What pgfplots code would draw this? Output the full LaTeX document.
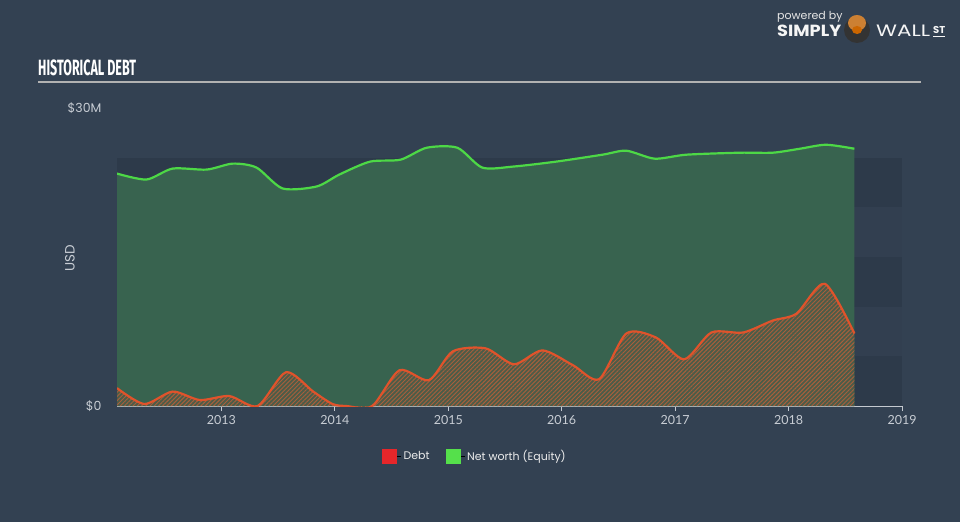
\documentclass[border=0pt]{standalone}
\usepackage{pgfplots}
\usepackage{pgfplotstable}
\pgfplotsset{compat=1.18}
\usetikzlibrary{patterns.meta}
\usepackage{fontspec}
\setmainfont{Lato}
\newfontfamily\popp{Poppins}
\newfontfamily\fira{Fira Sans}

\definecolor{bg}{HTML}{334152}
\definecolor{banddark}{HTML}{2D3A4A}
\definecolor{bandlight}{HTML}{323F50}
\definecolor{eqline}{HTML}{4DD846}
\definecolor{eqfill}{HTML}{38634F}
\definecolor{debtline}{HTML}{E0532B}
\definecolor{debtfill}{HTML}{4C5C48}
\definecolor{hatch}{HTML}{A85F3C}
\definecolor{legred}{HTML}{E6262A}
\definecolor{leggreen}{HTML}{55E04B}
\definecolor{ticktext}{HTML}{C8CDD4}
\definecolor{axisline}{HTML}{C4C9D0}

\pgfplotstableread{
year eq
2012.08 23.4
2012.34 22.8
2012.57 23.9
2012.87 23.8
2013.10 24.4
2013.31 24.0
2013.54 21.9
2013.84 22.1
2014.04 23.3
2014.31 24.6
2014.58 24.8
2014.81 26.0
2015.08 26.0
2015.30 24.0
2015.57 24.1
2015.95 24.6
2016.36 25.3
2016.57 25.7
2016.82 24.9
2017.10 25.3
2017.57 25.5
2017.86 25.5
2018.10 25.9
2018.33 26.3
2018.58 25.9
}\eqdata

\pgfplotstableread{
year debt
2012.08 1.8
2012.32 0.2
2012.57 1.45
2012.81 0.6
2013.07 1.0
2013.32 0.0
2013.57 3.4
2013.81 1.45
2013.98 0.2
2014.10 0.0
2014.33 0.0
2014.57 3.6
2014.83 2.6
2015.04 5.5
2015.33 5.8
2015.58 4.2
2015.83 5.6
2016.10 4.1
2016.33 2.7
2016.57 7.3
2016.83 6.9
2017.08 4.7
2017.32 7.4
2017.60 7.4
2017.86 8.6
2018.07 9.3
2018.32 12.3
2018.58 7.3
}\debtdata

\begin{document}
\begin{tikzpicture}
\fill[bg] (0pt,0pt) rectangle (960pt,522pt);
% title
\node[anchor=south west, inner sep=0pt, text=white] at (38pt,446.3pt)
  {\resizebox{98pt}{15.7pt}{\fira\bfseries HISTORICAL DEBT}};
\draw[line width=2pt, color=gray!60!white] (38pt,440pt) -- (921pt,440pt);
% logo
\node[anchor=west, inner sep=0pt, text=white!80!gray, font=\fontsize{11}{12}\selectfont\popp] at (777pt,505pt) {powered by};
\node[anchor=south west, inner sep=0pt, text=white!92!gray] at (777pt,485pt) {\resizebox{64pt}{11.5pt}{\popp\bfseries SIMPLY}};
\fill[gray!40!black] (857pt,492pt) circle (13pt);
\fill[brown!80!orange] (857pt,499pt) ellipse (9pt and 8pt);
\fill[orange!80!black] (857pt,492pt) ellipse (5pt and 4pt);
\node[anchor=south west, inner sep=0pt, text=white!92!gray] at (876pt,485pt) {\resizebox{54pt}{11.5pt}{\popp WALL}};
\node[anchor=south west, inner sep=0pt, text=white!92!gray, font=\fontsize{10}{11}\selectfont\popp\bfseries] at (933pt,488pt) {ST};
\draw[white!92!gray, line width=1.2pt] (933pt,485.5pt) -- (944.5pt,485.5pt);
% USD label
\node[rotate=90, text=ticktext, font=\fontsize{13.5}{15}\selectfont\popp] at (70pt,264pt) {USD};

\begin{axis}[
  at={(117pt,116pt)}, anchor=south west,
  scale only axis, width=785pt, height=298pt,
  xmin=2012.08, xmax=2019, ymin=0, ymax=30,
  axis x line*=bottom, axis y line*=left,
  y axis line style={draw=none},
  x axis line style={draw=axisline, line width=1pt, -},
  xtick={2013,2014,2015,2016,2017,2018,2019},
  xticklabels={2013,2014,2015,2016,2017,2018,2019},
  ytick={0,30}, yticklabels={\$0,\$30M},
  tick align=outside, major tick length=5pt,
  xtick style={draw=axisline, line width=1pt},
  ytick style={draw=none},
  xticklabel style={text=ticktext, font=\fontsize{12.5}{14}\selectfont, yshift=-1pt},
  yticklabel style={text=ticktext, font=\fontsize{12.5}{14}\selectfont\popp, xshift=-7pt},
  legend style={at={(0.456,-0.168)}, anchor=center, draw=none, fill=none,
    text=white!85!gray, font=\fontsize{11}{13}\selectfont\popp,
    legend columns=2, /tikz/every even column/.append style={column sep=14pt}},
  clip=true,
]
\fill[banddark] (axis cs:2012.08,0) rectangle (axis cs:2019,5);
\fill[bandlight] (axis cs:2012.08,5) rectangle (axis cs:2019,10);
\fill[banddark] (axis cs:2012.08,10) rectangle (axis cs:2019,15);
\fill[bandlight] (axis cs:2012.08,15) rectangle (axis cs:2019,20);
\fill[banddark] (axis cs:2012.08,20) rectangle (axis cs:2019,25);

\addplot[draw=none, fill=eqfill, smooth, tension=0.45, forget plot] table[x=year,y=eq]{\eqdata} \closedcycle;
\addplot[draw=none, fill=debtfill, postaction={pattern={Lines[angle=45,distance=3pt,line width=0.95pt]}, pattern color=hatch}, smooth, tension=0.45, forget plot] table[x=year,y=debt]{\debtdata} \closedcycle;
\addplot[eqline, line width=2.2pt, smooth, tension=0.45, forget plot] table[x=year,y=eq]{\eqdata};
\addplot[debtline, line width=2.2pt, smooth, tension=0.45, forget plot] table[x=year,y=debt]{\debtdata};

\addlegendimage{legend image code/.code={\path (0pt,0pt) -- (19pt,0pt); \fill[legred] (0pt,-7pt) rectangle (14pt,7pt);}}
\addlegendentry{Debt}
\addlegendimage{legend image code/.code={\path (0pt,0pt) -- (19pt,0pt); \fill[leggreen] (0pt,-7pt) rectangle (14pt,7pt);}}
\addlegendentry{Net worth (Equity)}
\end{axis}
\end{tikzpicture}
\end{document}
